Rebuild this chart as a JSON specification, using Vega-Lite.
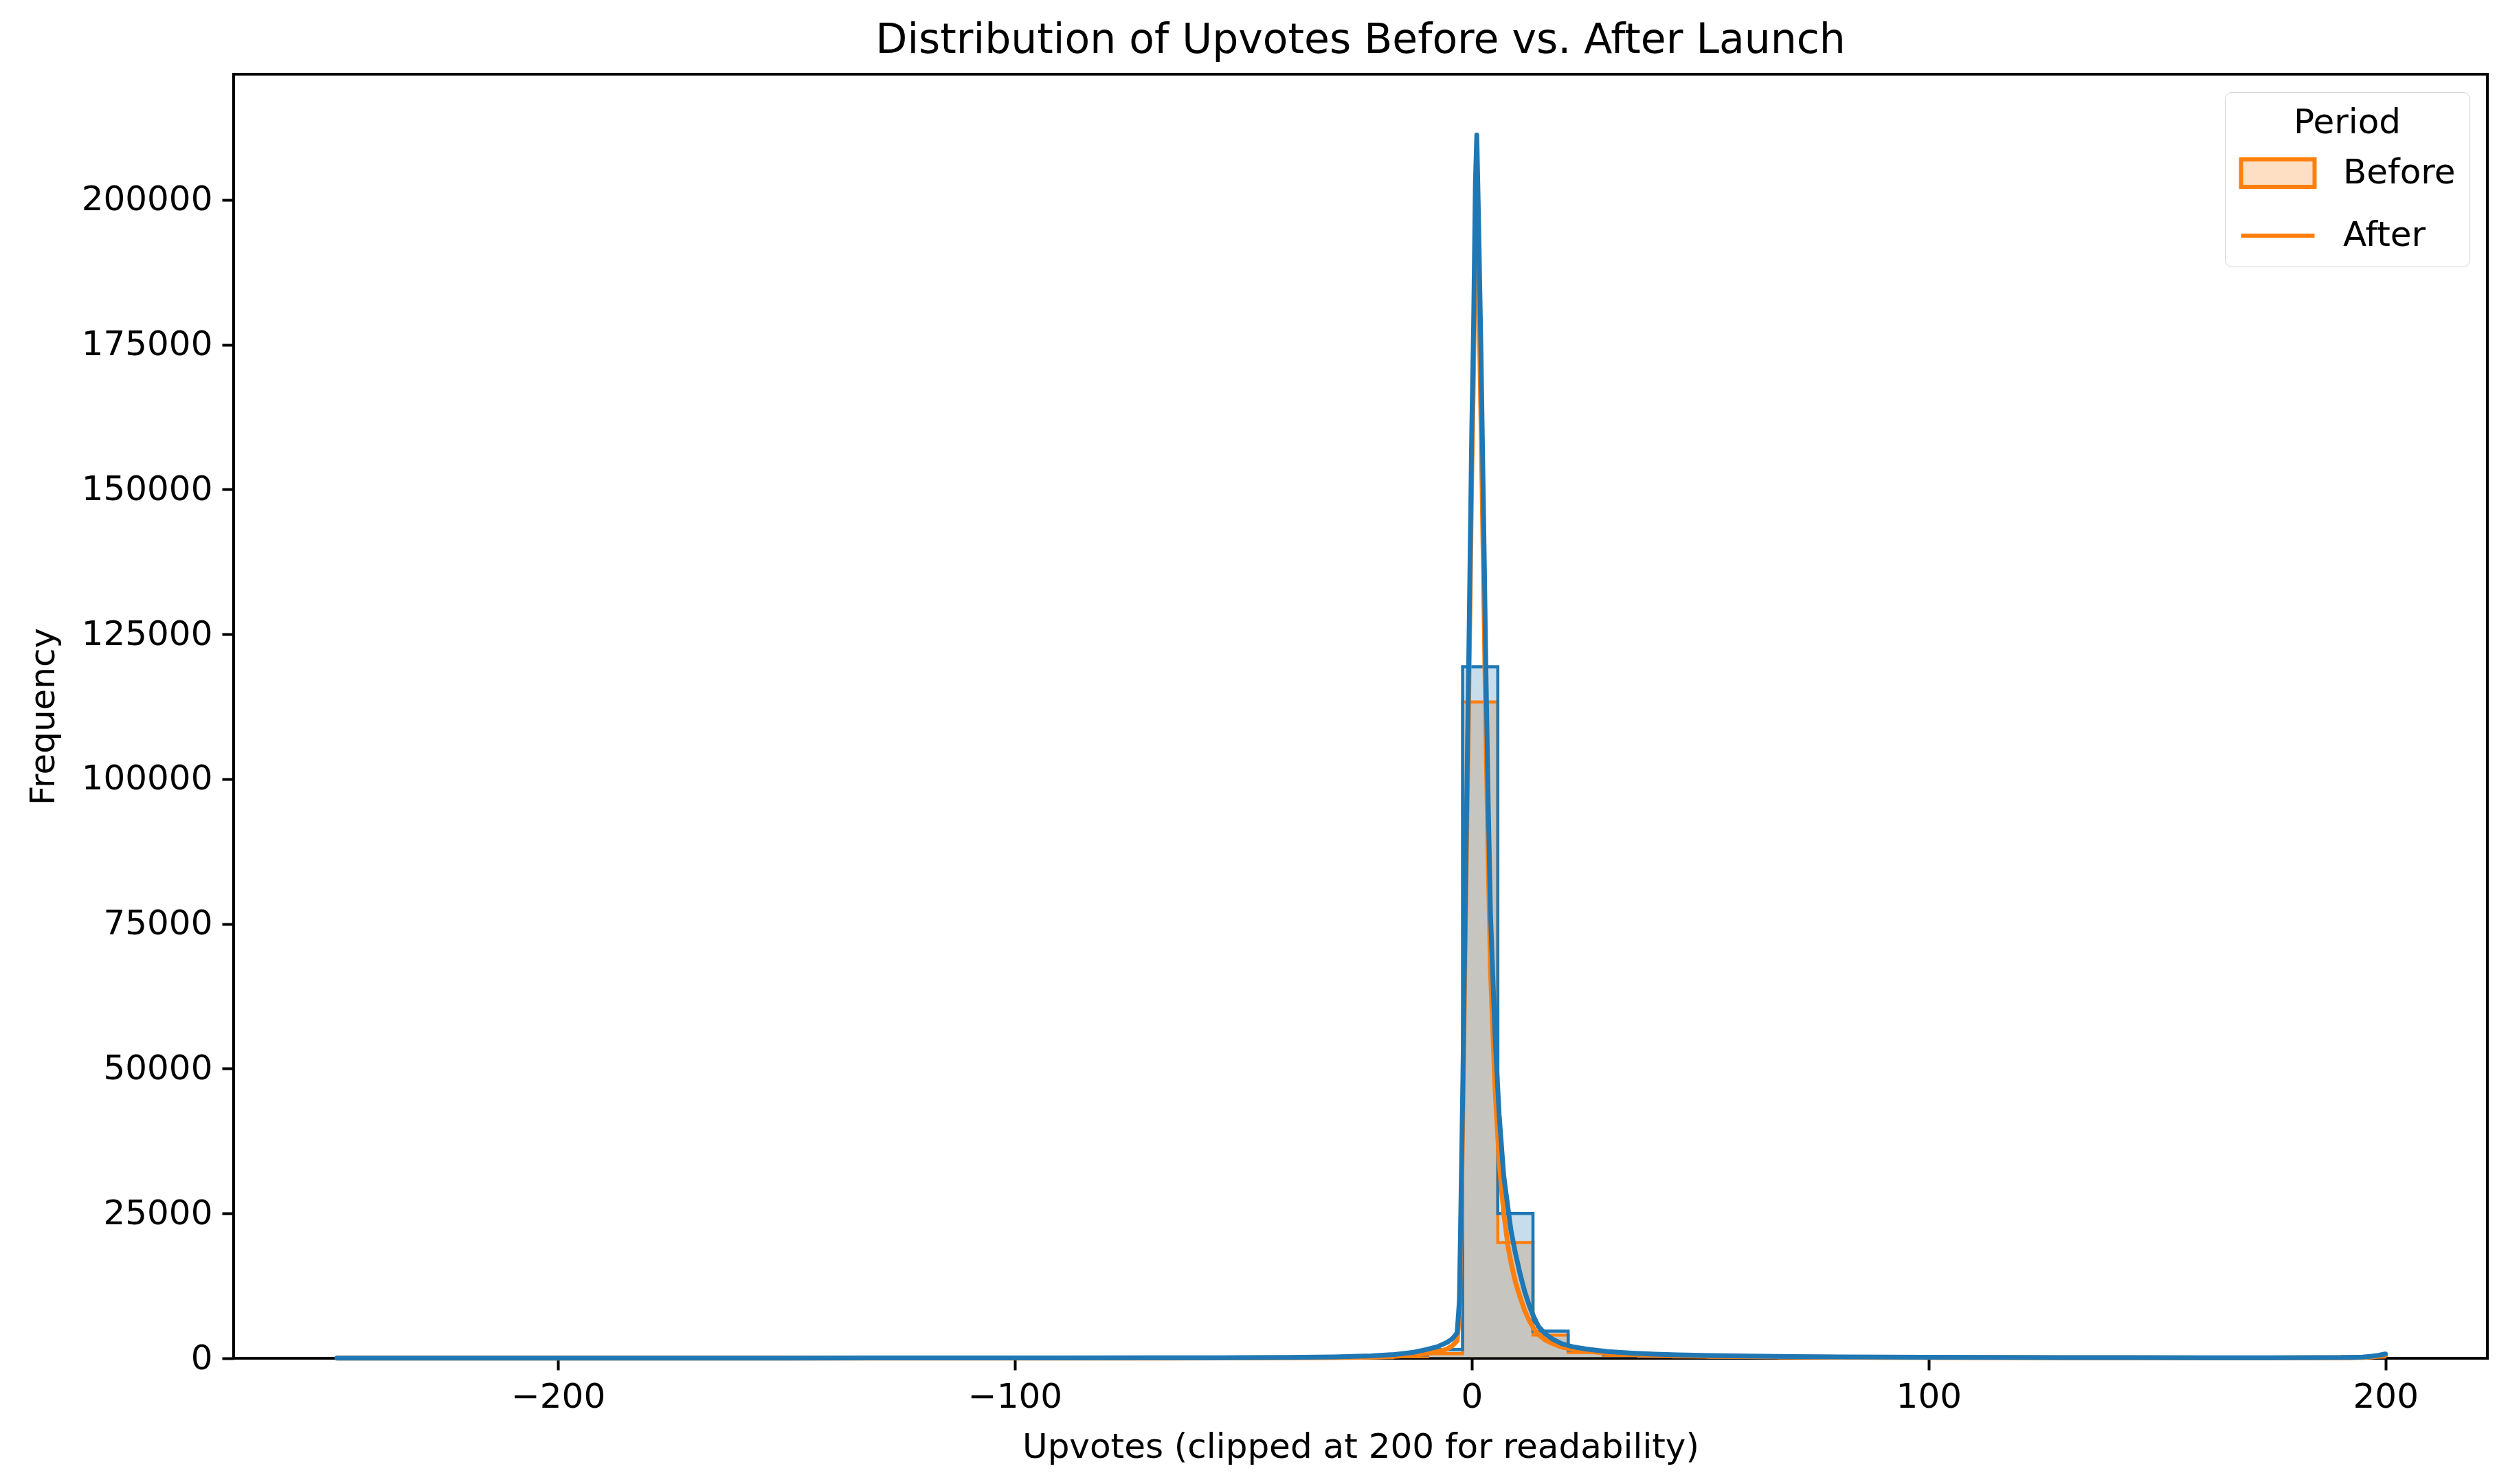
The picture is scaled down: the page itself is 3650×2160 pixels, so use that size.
{
  "$schema": "https://vega.github.io/schema/vega-lite/v6.json",
  "width": 3280,
  "height": 1869,
  "autosize": {"type": "none"},
  "padding": {"left": 340, "top": 108, "right": 30, "bottom": 183},
  "background": "white",
  "title": {
    "text": "Distribution of Upvotes Before vs. After Launch",
    "font": "DejaVu Sans",
    "fontSize": 60,
    "fontWeight": "normal",
    "color": "black",
    "anchor": "middle",
    "frame": "group",
    "offset": 18
  },
  "datasets": {
    "hist": [
      {"Upvotes": -248.4, "Before": 12, "After": 6},
      {"Upvotes": -240.7, "Before": 14, "After": 7},
      {"Upvotes": -233.0, "Before": 12, "After": 6},
      {"Upvotes": -225.3, "Before": 15, "After": 8},
      {"Upvotes": -217.6, "Before": 14, "After": 7},
      {"Upvotes": -209.9, "Before": 16, "After": 8},
      {"Upvotes": -202.2, "Before": 15, "After": 8},
      {"Upvotes": -194.5, "Before": 16, "After": 8},
      {"Upvotes": -186.8, "Before": 15, "After": 7},
      {"Upvotes": -179.1, "Before": 16, "After": 8},
      {"Upvotes": -171.4, "Before": 17, "After": 9},
      {"Upvotes": -163.7, "Before": 16, "After": 8},
      {"Upvotes": -156.0, "Before": 18, "After": 9},
      {"Upvotes": -148.3, "Before": 18, "After": 9},
      {"Upvotes": -140.6, "Before": 19, "After": 10},
      {"Upvotes": -132.9, "Before": 20, "After": 10},
      {"Upvotes": -125.2, "Before": 21, "After": 11},
      {"Upvotes": -117.5, "Before": 22, "After": 11},
      {"Upvotes": -109.8, "Before": 23, "After": 12},
      {"Upvotes": -102.1, "Before": 25, "After": 13},
      {"Upvotes": -94.4, "Before": 26, "After": 13},
      {"Upvotes": -86.7, "Before": 28, "After": 14},
      {"Upvotes": -79.0, "Before": 30, "After": 15},
      {"Upvotes": -71.3, "Before": 33, "After": 17},
      {"Upvotes": -63.6, "Before": 37, "After": 19},
      {"Upvotes": -55.9, "Before": 42, "After": 21},
      {"Upvotes": -48.2, "Before": 48, "After": 24},
      {"Upvotes": -40.5, "Before": 60, "After": 30},
      {"Upvotes": -32.8, "Before": 120, "After": 60},
      {"Upvotes": -25.1, "Before": 250, "After": 130},
      {"Upvotes": -17.4, "Before": 550, "After": 280},
      {"Upvotes": -9.7, "Before": 1500, "After": 800},
      {"Upvotes": -2.0, "Before": 119400, "After": 113300},
      {"Upvotes": 5.7, "Before": 25000, "After": 20000},
      {"Upvotes": 13.4, "Before": 4700, "After": 4000},
      {"Upvotes": 21.1, "Before": 1400, "After": 1000},
      {"Upvotes": 28.8, "Before": 700, "After": 500},
      {"Upvotes": 36.5, "Before": 450, "After": 320},
      {"Upvotes": 44.2, "Before": 320, "After": 230},
      {"Upvotes": 51.9, "Before": 250, "After": 180},
      {"Upvotes": 59.6, "Before": 200, "After": 140},
      {"Upvotes": 67.3, "Before": 170, "After": 120},
      {"Upvotes": 75.0, "Before": 160, "After": 110},
      {"Upvotes": 82.7, "Before": 150, "After": 105},
      {"Upvotes": 90.4, "Before": 140, "After": 100},
      {"Upvotes": 98.1, "Before": 130, "After": 90},
      {"Upvotes": 105.8, "Before": 125, "After": 85},
      {"Upvotes": 113.5, "Before": 120, "After": 80},
      {"Upvotes": 121.2, "Before": 115, "After": 78},
      {"Upvotes": 128.9, "Before": 110, "After": 75},
      {"Upvotes": 136.6, "Before": 105, "After": 72},
      {"Upvotes": 144.3, "Before": 100, "After": 68},
      {"Upvotes": 152.0, "Before": 96, "After": 65},
      {"Upvotes": 159.7, "Before": 93, "After": 62},
      {"Upvotes": 167.4, "Before": 90, "After": 60},
      {"Upvotes": 175.1, "Before": 90, "After": 60},
      {"Upvotes": 182.8, "Before": 92, "After": 62},
      {"Upvotes": 190.5, "Before": 300, "After": 200},
      {"Upvotes": 200.0, "Before": 300, "After": 200}
    ],
    "kde": [
      {"Upvotes": -248.4, "Before": 30, "After": 15},
      {"Upvotes": -200, "Before": 32, "After": 16},
      {"Upvotes": -150, "Before": 40, "After": 20},
      {"Upvotes": -100, "Before": 60, "After": 30},
      {"Upvotes": -70, "Before": 80, "After": 40},
      {"Upvotes": -50, "Before": 110, "After": 55},
      {"Upvotes": -40, "Before": 150, "After": 75},
      {"Upvotes": -30, "Before": 250, "After": 130},
      {"Upvotes": -22, "Before": 420, "After": 220},
      {"Upvotes": -17, "Before": 650, "After": 340},
      {"Upvotes": -13, "Before": 1000, "After": 520},
      {"Upvotes": -10, "Before": 1500, "After": 800},
      {"Upvotes": -7.5, "Before": 2000, "After": 1150},
      {"Upvotes": -5.4, "Before": 2750, "After": 1600},
      {"Upvotes": -4.2, "Before": 3400, "After": 2200},
      {"Upvotes": -3.2, "Before": 4400, "After": 3000},
      {"Upvotes": -2.7, "Before": 10000, "After": 7500},
      {"Upvotes": -2.4, "Before": 25000, "After": 21000},
      {"Upvotes": -2.0, "Before": 45000, "After": 40000},
      {"Upvotes": -1.3, "Before": 85000, "After": 80000},
      {"Upvotes": -0.7, "Before": 118000, "After": 112000},
      {"Upvotes": 0.0, "Before": 160000, "After": 153000},
      {"Upvotes": 0.4, "Before": 178000, "After": 171000},
      {"Upvotes": 0.8, "Before": 203000, "After": 195000},
      {"Upvotes": 1.1, "Before": 211200, "After": 203000},
      {"Upvotes": 1.4, "Before": 200000, "After": 190000},
      {"Upvotes": 2.0, "Before": 174700, "After": 163000},
      {"Upvotes": 2.6, "Before": 145000, "After": 134000},
      {"Upvotes": 3.1, "Before": 118700, "After": 108000},
      {"Upvotes": 3.6, "Before": 96000, "After": 86000},
      {"Upvotes": 4.1, "Before": 76700, "After": 67000},
      {"Upvotes": 5.1, "Before": 55700, "After": 46500},
      {"Upvotes": 6.0, "Before": 42000, "After": 34000},
      {"Upvotes": 7.0, "Before": 31500, "After": 25000},
      {"Upvotes": 8.0, "Before": 25500, "After": 19000},
      {"Upvotes": 8.6, "Before": 22000, "After": 16500},
      {"Upvotes": 9.6, "Before": 18000, "After": 13000},
      {"Upvotes": 10.6, "Before": 14500, "After": 10500},
      {"Upvotes": 11.6, "Before": 11500, "After": 8200},
      {"Upvotes": 12.6, "Before": 9100, "After": 6500},
      {"Upvotes": 13.6, "Before": 7100, "After": 5100},
      {"Upvotes": 14.6, "Before": 5500, "After": 4100},
      {"Upvotes": 16, "Before": 4300, "After": 3200},
      {"Upvotes": 17.5, "Before": 3400, "After": 2600},
      {"Upvotes": 19.6, "Before": 2550, "After": 1950},
      {"Upvotes": 22, "Before": 2000, "After": 1550},
      {"Upvotes": 25, "Before": 1600, "After": 1250},
      {"Upvotes": 29.7, "Before": 1160, "After": 900},
      {"Upvotes": 35, "Before": 900, "After": 700},
      {"Upvotes": 40, "Before": 720, "After": 550},
      {"Upvotes": 45, "Before": 600, "After": 450},
      {"Upvotes": 52, "Before": 480, "After": 360},
      {"Upvotes": 60, "Before": 380, "After": 290},
      {"Upvotes": 70, "Before": 300, "After": 225},
      {"Upvotes": 80, "Before": 250, "After": 185},
      {"Upvotes": 90, "Before": 210, "After": 155},
      {"Upvotes": 100, "Before": 180, "After": 130},
      {"Upvotes": 115, "Before": 150, "After": 105},
      {"Upvotes": 130, "Before": 125, "After": 90},
      {"Upvotes": 145, "Before": 110, "After": 80},
      {"Upvotes": 160, "Before": 100, "After": 72},
      {"Upvotes": 175, "Before": 98, "After": 70},
      {"Upvotes": 185, "Before": 105, "After": 75},
      {"Upvotes": 192, "Before": 140, "After": 100},
      {"Upvotes": 195, "Before": 220, "After": 150},
      {"Upvotes": 197, "Before": 350, "After": 230},
      {"Upvotes": 198.5, "Before": 520, "After": 340},
      {"Upvotes": 199.5, "Before": 680, "After": 450},
      {"Upvotes": 200, "Before": 750, "After": 500}
    ],
    "periods": [
      {"Period": "Before"},
      {"Period": "After"}
    ]
  },
  "layer": [
    {
      "data": {"name": "hist"},
      "transform": [{"fold": ["After", "Before"], "as": ["Period", "Frequency"]}],
      "mark": {"type": "area", "interpolate": "step-after", "opacity": 0.25},
      "encoding": {
        "x": {"field": "Upvotes", "type": "quantitative", "title": "Upvotes (clipped at 200 for readability)",
              "scale": {"domain": [-271, 222.3], "nice": false, "zero": false},
              "axis": {"values": [-200, -100, 0, 100, 200]}},
        "y": {"field": "Frequency", "type": "quantitative", "title": "Frequency", "stack": null,
              "scale": {"domain": [0, 221700], "nice": false},
              "axis": {"values": [0, 25000, 50000, 75000, 100000, 125000, 150000, 175000, 200000], "format": "d", "labelLimit": 1000}},
        "color": {"field": "Period", "type": "nominal",
                  "scale": {"domain": ["After", "Before"], "range": ["#ff7f0e", "#1f77b4"]},
                  "legend": null}
      }
    },
    {
      "data": {"name": "hist"},
      "transform": [{"fold": ["After", "Before"], "as": ["Period", "Frequency"]}],
      "mark": {"type": "line", "interpolate": "step-after", "strokeWidth": 4.5, "strokeJoin": "miter"},
      "encoding": {
        "x": {"field": "Upvotes", "type": "quantitative", "title": "Upvotes (clipped at 200 for readability)"},
        "y": {"field": "Frequency", "type": "quantitative", "title": "Frequency", "stack": null},
        "color": {"field": "Period", "type": "nominal", "legend": null}
      }
    },
    {
      "data": {"name": "kde"},
      "transform": [{"fold": ["After", "Before"], "as": ["Period", "Frequency"]}],
      "mark": {"type": "line", "strokeWidth": 7, "strokeCap": "round", "strokeJoin": "round"},
      "encoding": {
        "x": {"field": "Upvotes", "type": "quantitative", "title": "Upvotes (clipped at 200 for readability)"},
        "y": {"field": "Frequency", "type": "quantitative", "title": "Frequency", "stack": null},
        "color": {"field": "Period", "type": "nominal", "legend": null}
      }
    },
    {
      "data": {"name": "periods"},
      "mark": {"type": "point", "filled": true, "fill": "#ffdfc3", "stroke": "#ff7f0e", "strokeWidth": 6, "size": 0, "opacity": 1},
      "encoding": {
        "shape": {
          "field": "Period", "type": "nominal",
          "scale": {"domain": ["Before", "After"], "range": ["M-2,-0.75H2V0.75H-2Z", "M-2,0H2"]},
          "legend": {
            "title": "Period",
            "orient": "top-right",
            "offset": 26,
            "padding": 20,
            "fillColor": "white",
            "strokeColor": "#d0d0d0",
            "cornerRadius": 10,
            "titleFont": "DejaVu Sans",
            "titleFontSize": 50,
            "titleFontWeight": "normal",
            "titleColor": "black",
            "titleAnchor": "middle",
            "titlePadding": 18,
            "labelFont": "DejaVu Sans",
            "labelFontSize": 50,
            "labelColor": "black",
            "labelLimit": 1000,
            "symbolSize": 2862,
            "symbolStrokeWidth": 6,
            "symbolOffset": 27,
            "labelOffset": 65,
            "rowPadding": 28,
            "encode": {
              "symbols": {
                "opacity": {"value": 1},
                "size": {"value": 2862},
                "fill": {"value": "#ffdfc3"},
                "stroke": {"value": "#ff7f0e"},
                "strokeWidth": {"value": 6}
              }
            }
          }
        }
      }
    }
  ],
  "config": {
    "font": "DejaVu Sans",
    "view": {"stroke": "black", "strokeWidth": 4},
    "axis": {
      "domain": false,
      "grid": false,
      "ticks": true,
      "tickColor": "black",
      "tickWidth": 4,
      "tickSize": 17,
      "labelPadding": 14,
      "labelFont": "DejaVu Sans",
      "labelFontSize": 50,
      "labelColor": "black",
      "labelLimit": 1000,
      "titleFont": "DejaVu Sans",
      "titleFontSize": 50,
      "titleFontWeight": "normal",
      "titleColor": "black"
    },
    "axisX": {"titlePadding": 23},
    "axisY": {"titlePadding": 52}
  }
}
